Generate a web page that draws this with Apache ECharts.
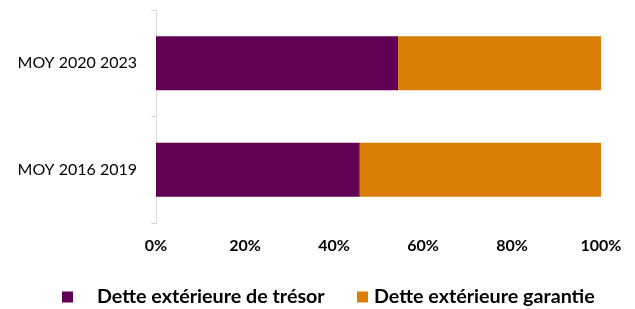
<!DOCTYPE html>
<html>
<head>
<meta charset="utf-8">
<script src="https://cdn.jsdelivr.net/npm/echarts@6/dist/echarts.min.js"></script>
<style>
  html, body { margin: 0; padding: 0; background: #fff; }
  #main { width: 635px; height: 309px; }
</style>
</head>
<body>
<div id="main"></div>
<script>
const categories = ['MOY 2016 2019', 'MOY 2020 2023'];
const tresor = [45.8, 54.4];
const garantie = [54.2, 45.6];
const tickLabels = ['0%', '20%', '40%', '60%', '80%', '100%'];

const chart = echarts.init(document.getElementById('main'));

const font = 'Lato';

let option = {
  animation: false,
  textStyle: { fontFamily: font },
  grid: {
    left: 156,
    right: 34,
    top: 10,
    bottom: 86
  },
  legend: [
    {
      data: ['Dette extérieure de trésor'],
      left: 57,
      top: 282,
      itemWidth: 11,
      itemHeight: 11,
      icon: 'rect',
      textStyle: { fontSize: 19.7, fontWeight: 'bold', color: '#000', padding: [0, 0, 0, 19] }
    },
    {
      data: ['Dette extérieure garantie'],
      left: 352,
      top: 282,
      itemWidth: 11,
      itemHeight: 11,
      icon: 'rect',
      textStyle: { fontSize: 19.7, fontWeight: 'bold', color: '#000', padding: [0, 0, 0, 1] }
    }
  ],
  xAxis: {
    type: 'value',
    min: 0,
    max: 100,
    interval: 20,
    axisLine: { show: false },
    axisTick: { show: false },
    splitLine: { show: false },
    axisLabel: {
      margin: 15,
      fontSize: 16,
      fontWeight: 'bold',
      color: '#000',
      formatter: function (v) { return tickLabels[v / 20]; }
    }
  },
  yAxis: {
    type: 'category',
    data: categories,
    axisLine: { show: true, lineStyle: { color: '#d9d9d9', width: 1 } },
    axisTick: { show: true, length: 5, lineStyle: { color: '#d9d9d9' } },
    axisLabel: { margin: 19, fontSize: 16, color: '#000' }
  },
  series: [
    {
      name: 'Dette extérieure de trésor',
      type: 'bar',
      stack: 'total',
      barWidth: 54,
      itemStyle: { color: '#620054' },
      data: tresor
    },
    {
      name: 'Dette extérieure garantie',
      type: 'bar',
      stack: 'total',
      barWidth: 54,
      itemStyle: { color: '#da7e06' },
      data: garantie
    }
  ]
};

chart.setOption(option);
</script>
</body>
</html>
